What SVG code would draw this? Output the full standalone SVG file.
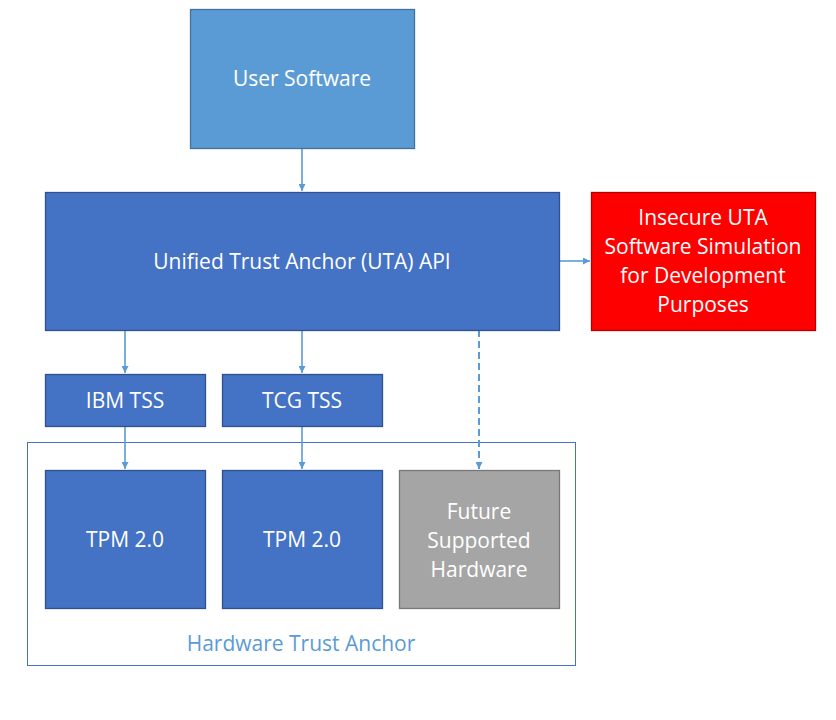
<svg xmlns="http://www.w3.org/2000/svg" width="836" height="720" viewBox="0 0 836 720">
<defs>
<style>
text{font-family:"Open Sans","DejaVu Sans",sans-serif;font-size:21px;fill:#fff;text-anchor:middle;dominant-baseline:central}
.blue{fill:#4472C4;stroke:#2F528F;stroke-width:1.3}
.lb{fill:#5B9BD5;stroke:#41719C;stroke-width:1.3}
.red{fill:#FF0000;stroke:#B90000;stroke-width:1.3}
.gray{fill:#A5A5A5;stroke:#787878;stroke-width:1.3}
.c{stroke:#5B9BD5;stroke-width:1.6;fill:none}
.d{stroke-width:2;stroke-dasharray:7,4}
</style>
<marker id="ah" viewBox="0 0 10 10" refX="10" refY="5" markerWidth="7" markerHeight="7" orient="auto" markerUnits="userSpaceOnUse"><path d="M0,0L10,5L0,10z" fill="#5B9BD5"/></marker>
</defs>
<rect width="836" height="720" fill="#fff"/>
<g id="hw-container">
<rect x="27.5" y="442.5" width="548" height="223" fill="none" stroke="#4472C4" stroke-width="1"/>
<text x="301" y="643" style="fill:#5B9BD5">Hardware Trust Anchor</text>
</g>
<g id="connectors">
<line class="c" x1="302" y1="148" x2="302" y2="191" marker-end="url(#ah)"/>
<line class="c" x1="559" y1="261" x2="590" y2="261" marker-end="url(#ah)"/>
<line class="c" x1="125" y1="330" x2="125" y2="373" marker-end="url(#ah)"/>
<line class="c" x1="302" y1="330" x2="302" y2="373" marker-end="url(#ah)"/>
<line class="c d" x1="479" y1="330" x2="479" y2="469" marker-end="url(#ah)"/>
<line class="c" x1="125" y1="426" x2="125" y2="469" marker-end="url(#ah)"/>
<line class="c" x1="302" y1="426" x2="302" y2="469" marker-end="url(#ah)"/>
</g>
<g id="user-software"><rect class="lb" x="190.5" y="9.5" width="224" height="139"/><text x="302" y="78">User Software</text></g>
<g id="uta-api"><rect class="blue" x="45.5" y="192.5" width="514" height="138"/><text x="302" y="261">Unified Trust Anchor (UTA) API</text></g>
<g id="insecure-sim"><rect class="red" x="591.5" y="192.5" width="224" height="138"/>
<text x="703" y="217">Insecure UTA</text><text x="703" y="246">Software Simulation</text><text x="703" y="275">for Development</text><text x="703" y="304">Purposes</text></g>
<g id="ibm-tss"><rect class="blue" x="45.5" y="374.5" width="160" height="52"/><text x="125" y="400">IBM TSS</text></g>
<g id="tcg-tss"><rect class="blue" x="222.5" y="374.5" width="160" height="52"/><text x="302" y="400">TCG TSS</text></g>
<g id="tpm1"><rect class="blue" x="45.5" y="470.5" width="160" height="138"/><text x="125" y="539">TPM 2.0</text></g>
<g id="tpm2"><rect class="blue" x="222.5" y="470.5" width="160" height="138"/><text x="302" y="539">TPM 2.0</text></g>
<g id="future-hw"><rect class="gray" x="399.5" y="470.5" width="160" height="138"/>
<text x="479" y="511">Future</text><text x="479" y="540">Supported</text><text x="479" y="569">Hardware</text></g>
</svg>
